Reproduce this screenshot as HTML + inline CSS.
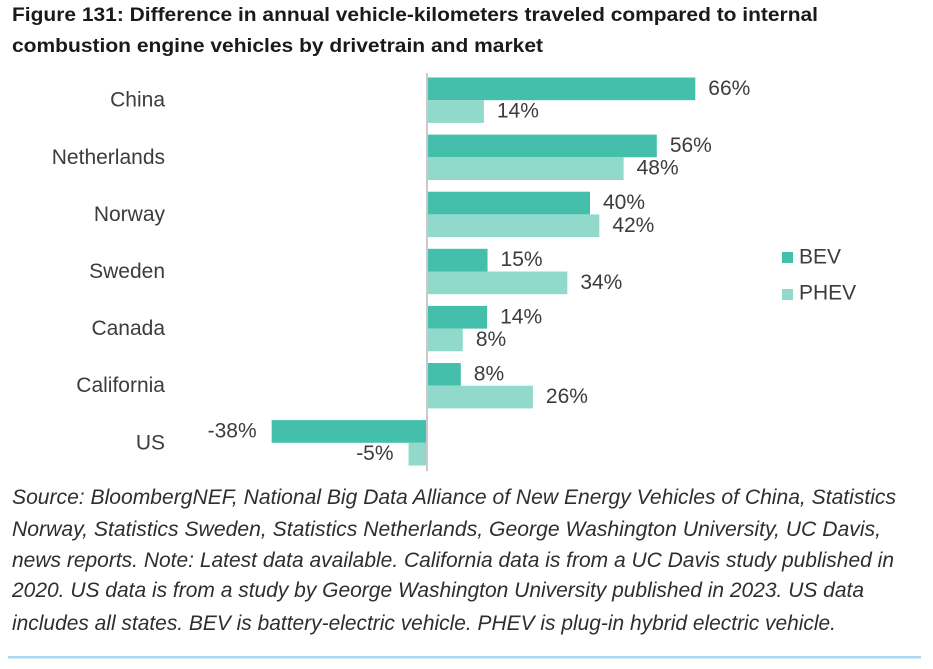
<!DOCTYPE html>
<html lang="en">
<head>
<meta charset="utf-8">
<title>Figure 131</title>
<style>
html,body{margin:0;padding:0;background:#fff;}
body{width:933px;height:669px;overflow:hidden;}
svg{display:block;}
text{font-family:"Liberation Sans",Arial,sans-serif;}
.title{font-weight:bold;font-size:19.5px;fill:#1a1a1a;}
.note{font-style:italic;font-size:21px;fill:#2e2e2e;}
.lbl{font-size:21px;fill:#3c3c3c;}
</style>
</head>
<body>
<svg id="chart" xmlns="http://www.w3.org/2000/svg" width="933" height="669" viewBox="0 0 933 669">
  <rect x="0" y="0" width="933" height="669" fill="#fff"/>
  <g>
    <text class="title" x="12" y="21" textLength="806" lengthAdjust="spacingAndGlyphs">Figure 131: Difference in annual vehicle-kilometers traveled compared to internal</text>
    <text class="title" x="12" y="52" textLength="531" lengthAdjust="spacingAndGlyphs">combustion engine vehicles by drivetrain and market</text>
  </g>
  <g id="plot"></g>
  <g>
    <g>
      <rect x="782" y="252" width="11" height="11" fill="#44bfab"/>
      <text class="lbl" x="799" y="263.5">BEV</text>
    </g>
    <g>
      <rect x="782" y="289" width="11" height="11" fill="#90d9cb"/>
      <text class="lbl" x="799" y="299.5">PHEV</text>
    </g>
  </g>
  <g>
    <text class="note" x="12" y="504" textLength="884" lengthAdjust="spacingAndGlyphs">Source: BloombergNEF, National Big Data Alliance of New Energy Vehicles of China, Statistics</text>
    <text class="note" x="12" y="536" textLength="869" lengthAdjust="spacingAndGlyphs">Norway, Statistics Sweden, Statistics Netherlands, George Washington University, UC Davis,</text>
    <text class="note" x="12" y="567" textLength="882" lengthAdjust="spacingAndGlyphs">news reports. Note: Latest data available. California data is from a UC Davis study published in</text>
    <text class="note" x="12" y="597" textLength="852" lengthAdjust="spacingAndGlyphs">2020. US data is from a study by George Washington University published in 2023. US data</text>
    <text class="note" x="12" y="630" textLength="824" lengthAdjust="spacingAndGlyphs">includes all states. BEV is battery-electric vehicle. PHEV is plug-in hybrid electric vehicle.</text>
  </g>
  <rect x="8" y="656" width="913" height="2.5" fill="#a8d9ef"/>
</svg>
<script>
const categories = ["China", "Netherlands", "Norway", "Sweden", "Canada", "California", "US"];
const bevValues = [66, 56.5, 40, 14.7, 14.6, 8.1, -38.6];
const phevValues = [13.8, 48.3, 42.3, 34.4, 8.6, 25.9, -4.8];
const bevLabels = ["66%", "56%", "40%", "15%", "14%", "8%", "-38%"];
const phevLabels = ["14%", "48%", "42%", "34%", "8%", "26%", "-5%"];

const NS = "http://www.w3.org/2000/svg";
const plot = document.getElementById("plot");
const ZERO_X = 428;
const UNIT_W = 4.05;
const FIRST_TOP = 77.5;
const ROW_STEP = 57.1;
const BAR_H = 22.7;
const xPos = function (v) { return ZERO_X + v * UNIT_W; };
const rowTop = function (i) { return FIRST_TOP + i * ROW_STEP; };

function svgEl(tag, attrs, text) {
  const el = document.createElementNS(NS, tag);
  Object.keys(attrs).forEach(function (k) { el.setAttribute(k, attrs[k]); });
  if (text !== undefined) el.textContent = text;
  plot.appendChild(el);
  return el;
}

function drawBar(v, top, fill, label) {
  const x0 = Math.min(xPos(0), xPos(v));
  const bar = svgEl("rect", { x: x0, y: top, width: Math.abs(xPos(v) - xPos(0)), height: BAR_H, fill: fill });
  
  
  const neg = v < 0;
  const lab = svgEl("text", {
    "class": "lbl",
    x: neg ? xPos(v) - 15 : xPos(v) + 13,
    y: top + BAR_H / 2 + 6,
    "text-anchor": neg ? "end" : "start"
  }, label);
  
  
}

categories.forEach(function (name, i) {
  const top = rowTop(i);
  const cat = svgEl("text", { "class": "lbl", x: 165, y: top + BAR_H + 6.5, "text-anchor": "end" }, name);
  
  
  drawBar(bevValues[i], top, "#44bfab", bevLabels[i]);
  drawBar(phevValues[i], top + BAR_H, "#90d9cb", phevLabels[i]);
});

const axis = svgEl("line", { x1: xPos(0) - 1, x2: xPos(0) - 1, y1: 73, y2: 471, stroke: "#c9c9c9", "stroke-width": 2 });


</script>
</body>
</html>
